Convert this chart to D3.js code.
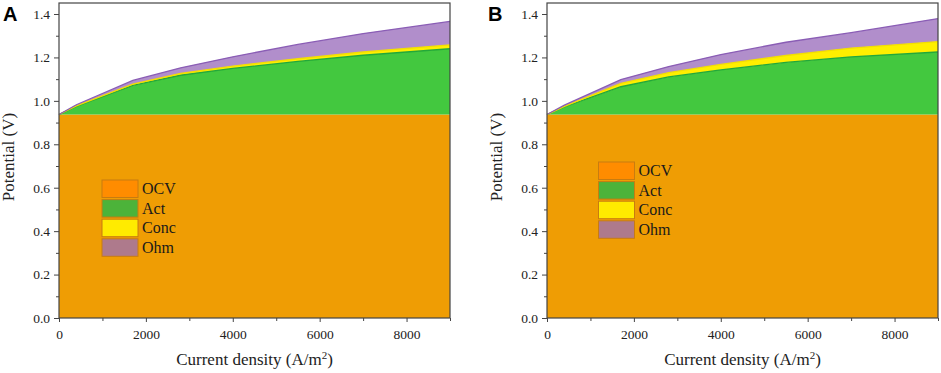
<!DOCTYPE html>
<html lang="en">
<head>
    <meta charset="UTF-8">
    <title>Potential breakdown</title>
    <script src="https://d3js.org/d3.v7.min.js"></script>
    <style>
        body { margin: 0; background: #fff; }
        svg text { font-family: "Liberation Serif", "Times New Roman", "DejaVu Serif", serif; }
        svg text.letter { font-family: "Liberation Sans", Arial, sans-serif; }
    </style>
</head>
<body>

<script>

    var width = 941;
    var height = 373;

    // current density (A/m2)
    var current = [0, 400, 1700, 2800, 4000, 5500, 7000, 9000];

    // panel A components (V)
    var ocvA  = [0.937, 0.937, 0.937, 0.937, 0.937, 0.937, 0.937, 0.937];
    var actA  = [0, 0.038, 0.134, 0.181, 0.213, 0.245, 0.273, 0.303];
    var concA = [0, 0.002, 0.006, 0.008, 0.010, 0.012, 0.015, 0.018];
    var ohmA  = [0, 0.005, 0.017, 0.026, 0.043, 0.066, 0.085, 0.108];

    // panel B components (V)
    var ocvB  = [0.937, 0.937, 0.937, 0.937, 0.937, 0.937, 0.937, 0.937];
    var actB  = [0, 0.035, 0.128, 0.173, 0.206, 0.240, 0.266, 0.288];
    var concB = [0, 0.003, 0.016, 0.020, 0.025, 0.032, 0.040, 0.048];
    var ohmB  = [0, 0.005, 0.017, 0.028, 0.045, 0.061, 0.071, 0.106];

    var keys = ["OCV", "Act", "Conc", "Ohm"];
    var yTicks = [0, 0.2, 0.4, 0.6, 0.8, 1.0, 1.2, 1.4];
    var xTicks = [0, 2000, 4000, 6000, 8000];

    var fillColor = { OCV: "#EF9D04", Act: "#43C83F", Conc: "#FFEF00", Ohm: "#B18ECB" };
    var edgeColor = { OCV: "#EF9D04", Act: "#23A83A", Conc: "#F2DF00", Ohm: "#8A5DB5" };
    var swatchColor = { OCV: "#FF8C00", Act: "#4CB33A", Conc: "#FFEB00", Ohm: "#AE7A8C" };

    var svg = d3.select("body")
        .append("svg")
        .attr("width", width)
        .attr("height", height);

    function rows(ocv, act, conc, ohm) {
        return current.map(function (c, i) {
            return { x: c, OCV: ocv[i], Act: act[i], Conc: conc[i], Ohm: ohm[i] };
        });
    }

    function panel(opts) {
        var data = rows(opts.ocv, opts.act, opts.conc, opts.ohm);
        var x = d3.scaleLinear().domain([0, 9000]).range([opts.left, opts.right]);
        var y = d3.scaleLinear().domain([0, 1.4507]).range([318, 3]);

        var g = svg.append("g");

        var series = d3.stack().keys(keys)(data);

        var area = d3.area()
            .x(function (d) { return x(d.data.x); })
            .y0(function (d) { return y(d[0]); })
            .y1(function (d) { return y(d[1]); });

        var topLine = d3.line()
            .x(function (d) { return x(d.data.x); })
            .y(function (d) { return y(d[1]); });

        g.selectAll("path.layer")
            .data(series)
            .enter().append("path")
            .attr("class", "layer")
            .attr("d", area)
            .attr("fill", function (d) { return fillColor[d.key]; });

        g.selectAll("path.edge")
            .data(series.slice(1))
            .enter().append("path")
            .attr("class", "edge")
            .attr("d", topLine)
            .attr("fill", "none")
            .attr("stroke", function (d) { return edgeColor[d.key]; })
            .attr("stroke-width", 1.3);

        // frame
        g.append("rect")
            .attr("x", opts.left)
            .attr("y", 3)
            .attr("width", opts.right - opts.left)
            .attr("height", 315)
            .attr("fill", "none")
            .attr("stroke", "#444")
            .attr("stroke-width", 1.2);

        // axes
        var yAxis = d3.axisLeft(y).tickValues(yTicks).tickSize(5).tickPadding(4)
            .tickFormat(d3.format(".1f"));
        var yMinor = d3.axisLeft(y).tickValues(d3.range(0.1, 1.45, 0.2)).tickSize(3).tickFormat("");
        var xAxis = d3.axisBottom(x).tickValues(xTicks).tickSize(4).tickPadding(7)
            .tickFormat(d3.format("d"));
        var xMinor = d3.axisBottom(x).tickValues([1000, 3000, 5000, 7000, 9000]).tickSize(3).tickFormat("");

        [[yAxis, "translate(" + opts.left + ",0)"], [yMinor, "translate(" + opts.left + ",0)"],
         [xAxis, "translate(0,318)"], [xMinor, "translate(0,318)"]].forEach(function (a) {
            var ax = g.append("g").attr("transform", a[1]).call(a[0]);
            ax.attr("font-family", null);
            ax.select(".domain").remove();
            ax.selectAll("line").attr("stroke", "#444");
            ax.selectAll("text")
                .attr("font-size", 13.5)
                .attr("fill", "#222");
        });

        // axis titles
        g.append("text")
            .attr("transform", "translate(" + opts.ylabelX + ",157) rotate(-90)")
            .attr("text-anchor", "middle")
            .attr("font-size", 17)
            .attr("fill", "#222")
            .text("Potential (V)");

        var xt = g.append("text")
            .attr("x", (opts.left + opts.right) / 2)
            .attr("y", 365)
            .attr("text-anchor", "middle")
            .attr("font-size", 17)
            .attr("fill", "#222");
        xt.append("tspan").text("Current density (A/m");
        xt.append("tspan").attr("dy", -6).attr("font-size", 11).text("2");
        xt.append("tspan").attr("dy", 6).text(")");

        // panel letter
        g.append("text")
            .attr("class", "letter")
            .attr("x", opts.letterX)
            .attr("y", 21)
            .attr("font-weight", "bold")
            .attr("font-size", 20)
            .attr("fill", "#000")
            .text(opts.letter);

        // legend
        var lg = g.append("g").attr("transform", "translate(" + opts.legX + "," + opts.legY + ")");
        var item = lg.selectAll("g").data(keys).enter().append("g")
            .attr("transform", function (d, i) { return "translate(0," + (i * 19.6) + ")"; });
        item.append("rect")
            .attr("width", 36)
            .attr("height", 17.5)
            .attr("fill", function (d) { return swatchColor[d]; })
            .attr("stroke", "#C87C10")
            .attr("stroke-width", 1);
        item.append("text")
            .attr("x", 40)
            .attr("y", 14)
            .attr("font-size", 16)
            .attr("fill", "#1a1a1a")
            .text(function (d) { return d; });
    }

    panel({ ocv: ocvA, act: actA, conc: concA, ohm: ohmA, left: 59, right: 450,
            ylabelX: 14, letter: "A", letterX: 3, legX: 102, legY: 180 });
    panel({ ocv: ocvB, act: actB, conc: concB, ohm: ohmB, left: 547, right: 938,
            ylabelX: 502, letter: "B", letterX: 488, legX: 598.5, legY: 162 });

</script>

</body>
</html>
